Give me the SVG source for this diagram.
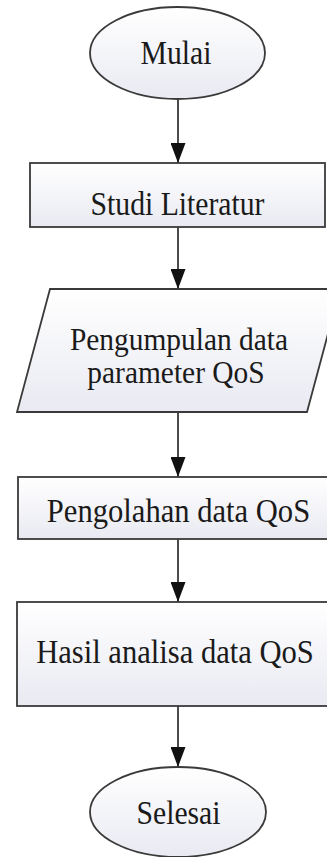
<svg xmlns="http://www.w3.org/2000/svg" width="327" height="857" viewBox="0 0 327 857">
<defs>
<linearGradient id="g" x1="0" y1="0" x2="0" y2="1">
<stop offset="0" stop-color="#ffffff"/>
<stop offset="1" stop-color="#e9eaf2"/>
</linearGradient>
<marker id="ah" markerWidth="20" markerHeight="15" refX="20" refY="7.5" orient="auto" markerUnits="userSpaceOnUse" viewBox="0 0 20 15">
<path d="M0,0 L20,7.5 L0,15 Z" fill="#111"/>
</marker>
<style>
.s{fill:url(#g);stroke:#3a3a3a;stroke-width:1.8}
.t{font-family:"Liberation Serif","Times New Roman",serif;font-size:33px;fill:#1a1a1a;text-anchor:middle}
.b{font-size:34px}
.p{font-size:32px}
.c{stroke:#111;stroke-width:1.5;fill:none}
</style>
</defs>
<rect width="327" height="857" fill="#ffffff"/>
<g id="connectors">
<line class="c" x1="178" y1="99" x2="178" y2="163" marker-end="url(#ah)"/>
<line class="c" x1="178" y1="227" x2="178" y2="289" marker-end="url(#ah)"/>
<line class="c" x1="178" y1="412" x2="178" y2="477" marker-end="url(#ah)"/>
<line class="c" x1="178" y1="539" x2="178" y2="602" marker-end="url(#ah)"/>
<line class="c" x1="178" y1="706" x2="178" y2="767" marker-end="url(#ah)"/>
</g>
<g id="mulai">
<ellipse class="s" cx="177.5" cy="53" rx="87.5" ry="46"/>
<text class="t" transform="translate(176,64) scale(0.9,1)">Mulai</text>
</g>
<g id="studi">
<rect class="s" x="30" y="163" width="295" height="64"/>
<text class="t" transform="translate(177.5,215) scale(0.9,1)">Studi Literatur</text>
</g>
<g id="pengumpulan">
<polygon class="s" points="50,289 340,289 307,412 17,412"/>
<text class="t p" transform="translate(179,350) scale(0.92,1)">Pengumpulan data</text>
<text class="t p" transform="translate(176,383) scale(0.92,1)">parameter QoS</text>
</g>
<g id="pengolahan">
<rect class="s" x="18" y="477" width="320" height="62"/>
<text class="t b" transform="translate(178.5,522) scale(0.9,1)">Pengolahan data QoS</text>
</g>
<g id="hasil">
<rect class="s" x="17" y="602" width="321" height="104"/>
<text class="t b" transform="translate(175,663) scale(0.9,1)">Hasil analisa data QoS</text>
</g>
<g id="selesai">
<ellipse class="s" cx="178" cy="812" rx="88" ry="45"/>
<text class="t" transform="translate(178.5,824) scale(0.9,1)">Selesai</text>
</g>
</svg>
